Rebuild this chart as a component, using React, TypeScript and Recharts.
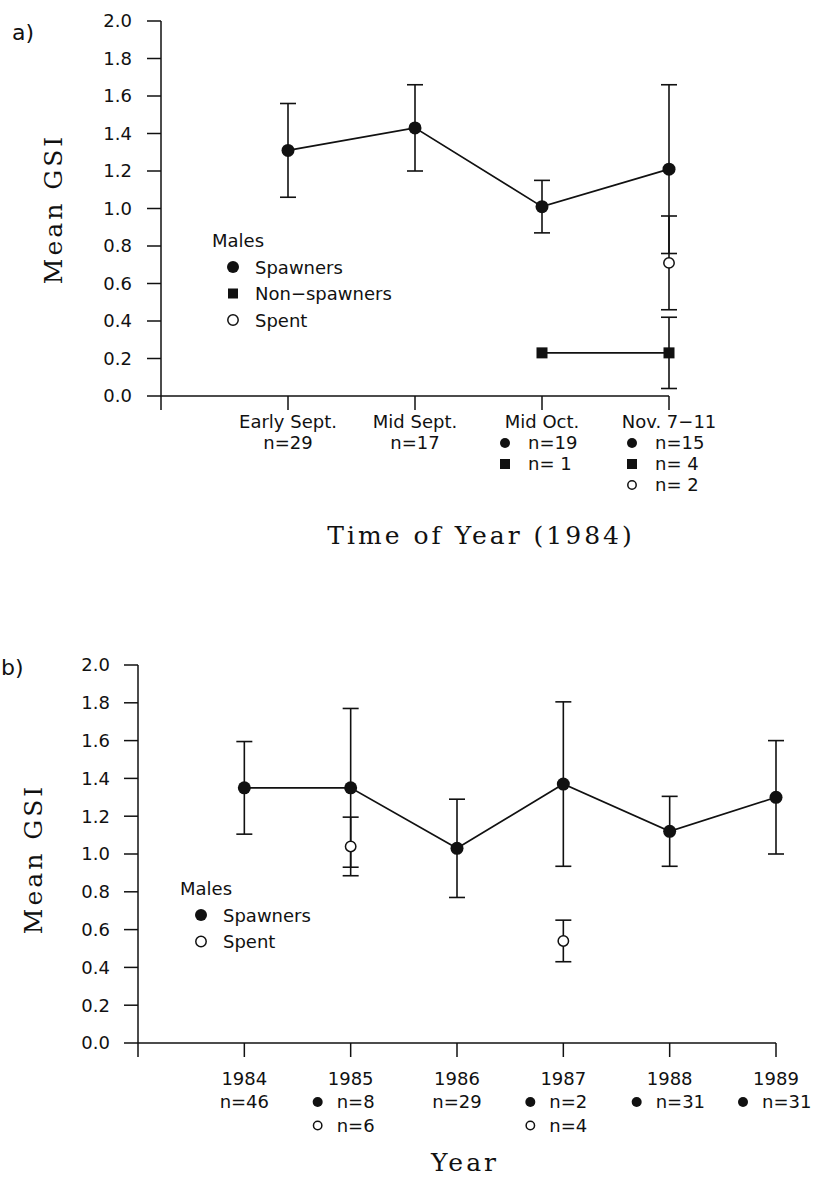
import { LineChart, Line, XAxis, YAxis, ErrorBar } from "recharts"

// panel a: 1984 sampling periods
const periodsA = ["Early Sept.", "Mid Sept.", "Mid Oct.", "Nov. 7\u221211"]
const spawnerMeanA = [1.31, 1.43, 1.01, 1.21]
const spawnerSdA = [0.25, 0.23, 0.14, 0.45]
const spawnerNA = [29, 17, 19, 15]
const nonSpawnerMeanA = [null, null, 0.23, 0.23]
const nonSpawnerSdA = [null, null, null, 0.19]
const nonSpawnerNA = [null, null, 1, 4]
const spentMeanA = [null, null, null, 0.71]
const spentSdA = [null, null, null, 0.25]
const spentNA = [null, null, null, 2]
const keyedA = [false, false, true, true]

// panel b: years
const yearsB = ["1984", "1985", "1986", "1987", "1988", "1989"]
const spawnerMeanB = [1.35, 1.35, 1.03, 1.37, 1.12, 1.3]
const spawnerSdB = [0.245, 0.42, 0.26, 0.435, 0.185, 0.3]
const spawnerNB = [46, 8, 29, 2, 31, 31]
const spentMeanB = [null, 1.04, null, 0.54, null, null]
const spentSdB = [null, 0.155, null, 0.11, null, null]
const spentNB = [null, 6, null, 4, null, null]
const keyedB = [false, true, false, true, true, true]

const gsiTicks = [0, 0.2, 0.4, 0.6, 0.8, 1.0, 1.2, 1.4, 1.6, 1.8, 2.0]

const INK = "#111"
const SANS = "'DejaVu Sans', sans-serif"
const SERIF = "'DejaVu Serif', serif"

type Kind = "spawner" | "non" | "spent"

function toSeries(means: (number | null)[], sds: (number | null)[]) {
  return means
    .map((m, i) => ({ x: i + 1, y: m, sd: sds[i] }))
    .filter((d) => d.y != null)
}

function Marker({ kind, cx, cy, size }: { kind: Kind; cx: number; cy: number; size: number }) {
  if (kind === "spawner") return <circle cx={cx} cy={cy} r={size / 2} fill={INK} />
  if (kind === "non")
    return <rect x={cx - size / 2} y={cy - size / 2} width={size} height={size} fill={INK} />
  return <circle cx={cx} cy={cy} r={size / 2 - 0.8} fill="#fff" stroke={INK} strokeWidth={1.5} />
}

const dotFor = (kind: Kind, size: number) => (p: any) => (
  <Marker key={`${kind}-${p.index}`} kind={kind} cx={p.cx} cy={p.cy} size={size} />
)

function makeTick(
  labels: string[],
  groups: { kind: Kind; n: (number | null)[] }[],
  keyed: boolean[],
  pad: boolean,
  firstRow: number,
  rowGap: number,
  markerDx: number
) {
  return (props: any) => {
    const { x, y, payload } = props
    const i = Math.round(payload.value) - 1
    if (i < 0 || i >= labels.length) return <g />
    const rows = keyed[i]
      ? groups
          .filter((g) => g.n[i] != null)
          .map((g) => ({
            kind: g.kind as Kind | null,
            text: "n=" + (pad ? String(g.n[i]).padStart(2, "\u00a0") : String(g.n[i])),
          }))
      : [{ kind: null as Kind | null, text: "n=" + groups[0].n[i] }]
    return (
      <g fontFamily={SANS} fontSize={18} fill={INK}>
        <text x={x} y={y + firstRow} textAnchor="middle">
          {labels[i]}
        </text>
        {rows.map((r, k) => {
          const by = y + firstRow + rowGap * (k + 1)
          return r.kind ? (
            <g key={k}>
              <Marker kind={r.kind} cx={x + markerDx} cy={by - 6} size={10} />
              <text x={x - 14} y={by} textAnchor="start">
                {r.text}
              </text>
            </g>
          ) : (
            <text key={k} x={x} y={by} textAnchor="middle">
              {r.text}
            </text>
          )
        })}
      </g>
    )
  }
}

const axisProps = {
  stroke: INK,
  strokeWidth: 1.5,
  tickSize: 14,
}

function LegendBlock({ x, y, kinds }: { x: number; y: number; kinds: [Kind, string][] }) {
  return (
    <g fontFamily={SANS} fontSize={18} fill={INK}>
      <text x={x} y={y} dominantBaseline="central">
        Males
      </text>
      {kinds.map(([k, name], i) => (
        <g key={k}>
          <Marker kind={k} cx={x + 21} cy={y + 27 + i * 26.5} size={k === "non" ? 10 : 12} />
          <text x={x + 43} y={y + 27 + i * 26.5} dominantBaseline="central">
            {name}
          </text>
        </g>
      ))}
    </g>
  )
}

export default function App() {
  const spawnersA = toSeries(spawnerMeanA, spawnerSdA)
  const nonA = toSeries(nonSpawnerMeanA, nonSpawnerSdA)
  const spentA = toSeries(spentMeanA, spentSdA)
  const spawnersB = toSeries(spawnerMeanB, spawnerSdB)
  const spentB = toSeries(spentMeanB, spentSdB)

  const tickA = makeTick(
    periodsA,
    [
      { kind: "spawner", n: spawnerNA },
      { kind: "non", n: nonSpawnerNA },
      { kind: "spent", n: spentNA },
    ],
    keyedA,
    true,
    16,
    21,
    -37
  )
  const tickB = makeTick(
    yearsB,
    [
      { kind: "spawner", n: spawnerNB },
      { kind: "spent", n: spentNB },
    ],
    keyedB,
    false,
    25.5,
    23.5,
    -33
  )

  return (
    <div style={{ position: "absolute", left: 0, top: 0, width: 818, height: 1178, background: "#fff" }}>
      <div style={{ position: "absolute", left: 0, top: 0 }}>
        <LineChart width={818} height={560} margin={{ top: 21, right: 149, bottom: 54, left: 101 }}>
          <XAxis
            type="number"
            dataKey="x"
            domain={[0, 4]}
            ticks={[0, 1, 2, 3, 4]}
            height={110}
            tick={tickA}
            {...axisProps}
          />
          <YAxis
            type="number"
            domain={[0, 2]}
            ticks={gsiTicks}
            width={60}
            tickMargin={15}
            tickFormatter={(v: number) => v.toFixed(1)}
            tick={{ fill: INK, fontSize: 18, fontFamily: SANS }}
            {...axisProps}
          />
          <Line data={spawnersA} dataKey="y" stroke={INK} strokeWidth={1.7} dot={dotFor("spawner", 13)} isAnimationActive={false}>
            <ErrorBar dataKey="sd" direction="y" width={8} stroke={INK} strokeWidth={1.6} isAnimationActive={false} />
          </Line>
          <Line data={nonA} dataKey="y" stroke={INK} strokeWidth={1.7} dot={dotFor("non", 11)} isAnimationActive={false}>
            <ErrorBar dataKey="sd" direction="y" width={8} stroke={INK} strokeWidth={1.6} isAnimationActive={false} />
          </Line>
          <Line data={spentA} dataKey="y" stroke="none" dot={dotFor("spent", 12)} isAnimationActive={false}>
            <ErrorBar dataKey="sd" direction="y" width={8} stroke={INK} strokeWidth={1.6} isAnimationActive={false} />
          </Line>
        </LineChart>
      </div>
      <div style={{ position: "absolute", left: 0, top: 600 }}>
        <LineChart width={818} height={578} margin={{ top: 65, right: 42, bottom: 35, left: 78 }}>
          <XAxis
            type="number"
            dataKey="x"
            domain={[0, 6]}
            ticks={[0, 1, 2, 3, 4, 5, 6]}
            height={100}
            tick={tickB}
            {...axisProps}
          />
          <YAxis
            type="number"
            domain={[0, 2]}
            ticks={gsiTicks}
            width={60}
            tickMargin={14}
            tickFormatter={(v: number) => v.toFixed(1)}
            tick={{ fill: INK, fontSize: 18, fontFamily: SANS }}
            {...axisProps}
          />
          <Line data={spawnersB} dataKey="y" stroke={INK} strokeWidth={1.7} dot={dotFor("spawner", 13)} isAnimationActive={false}>
            <ErrorBar dataKey="sd" direction="y" width={8} stroke={INK} strokeWidth={1.6} isAnimationActive={false} />
          </Line>
          <Line data={spentB} dataKey="y" stroke="none" dot={dotFor("spent", 12)} isAnimationActive={false}>
            <ErrorBar dataKey="sd" direction="y" width={8} stroke={INK} strokeWidth={1.6} isAnimationActive={false} />
          </Line>
        </LineChart>
      </div>
      <svg width={818} height={1178} style={{ position: "absolute", left: 0, top: 0, pointerEvents: "none" }}>
        <text x={12} y={32} fontFamily={SANS} fontSize={22} fill={INK} dominantBaseline="central">
          a)
        </text>
        <text x={1} y={667} fontFamily={SANS} fontSize={22} fill={INK} dominantBaseline="central">
          b)
        </text>
        <g fontFamily={SERIF} fontSize={25} fill={INK} letterSpacing={3}>
          <text x={53} y={209} textAnchor="middle" dominantBaseline="central" transform="rotate(-90 53 209)">
            Mean GSI
          </text>
          <text x={481} y={535} textAnchor="middle" dominantBaseline="central">
            Time of Year (1984)
          </text>
          <text x={33} y={859} textAnchor="middle" dominantBaseline="central" transform="rotate(-90 33 859)">
            Mean GSI
          </text>
          <text x={465} y={1162} textAnchor="middle" dominantBaseline="central">
            Year
          </text>
        </g>
        <LegendBlock
          x={212}
          y={240}
          kinds={[
            ["spawner", "Spawners"],
            ["non", "Non\u2212spawners"],
            ["spent", "Spent"],
          ]}
        />
        <LegendBlock
          x={180}
          y={888}
          kinds={[
            ["spawner", "Spawners"],
            ["spent", "Spent"],
          ]}
        />
      </svg>
    </div>
  )
}
